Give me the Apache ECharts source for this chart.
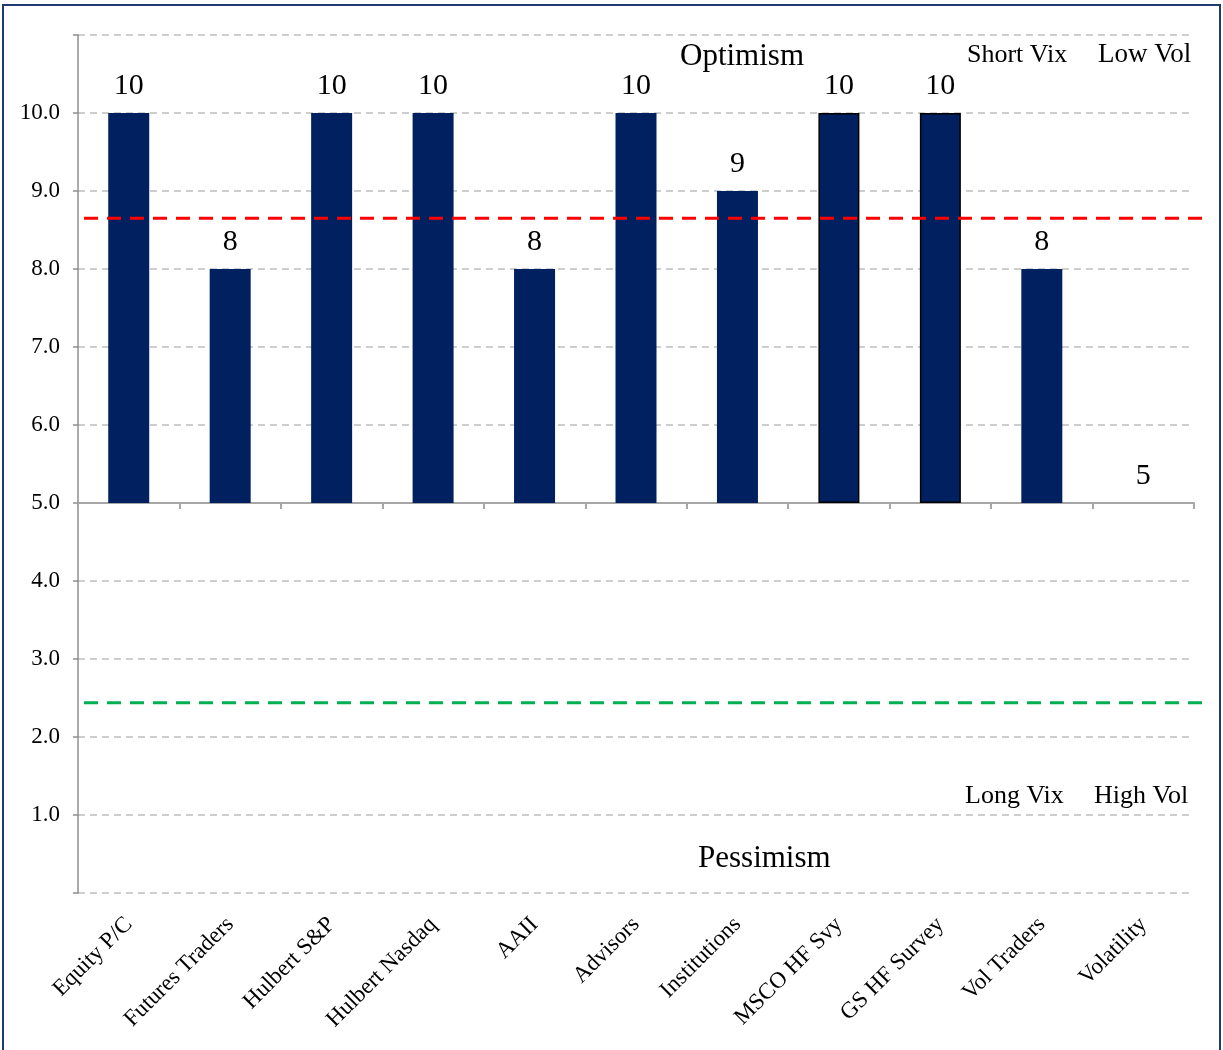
<!DOCTYPE html>
<html>
<head>
<meta charset="utf-8">
<script src="https://cdn.jsdelivr.net/npm/echarts@6/dist/echarts.min.js"></script>
<style>
  html, body { margin: 0; padding: 0; background: #fff; }
  #chart { width: 1223px; height: 1050px; }
</style>
</head>
<body>
<div id="chart"></div>
<script>
// 指标名称和读数
const categories = ['Equity P/C', 'Futures Traders', 'Hulbert S&P', 'Hulbert Nasdaq', 'AAII', 'Advisors',
    'Institutions', 'MSCO HF Svy', 'GS HF Survey', 'Vol Traders', 'Volatility'];
const scores = [10, 8, 10, 10, 8, 10, 9, 10, 10, 8, 5];
// 柱子从中线 5 开始
const baseline = 5;
// 带黑边的柱子
const outlined = ['MSCO HF Svy', 'GS HF Survey'];
// 红线/绿线 的水平
const optimismLevel = 8.65;
const pessimismLevel = 2.44;
const yTicks = [0, 1, 2, 3, 4, 5, 6, 7, 8, 9, 10, 11];

const serif = '"Liberation Serif", "Times New Roman", serif';
const navy = '#002060';
const plotHeight = 858;

var myChart = echarts.init(document.getElementById('chart'));

var option = {
    animation: false,
    backgroundColor: '#fff',
    grid: [
        { left: 78, right: 29, top: 35, bottom: 157 },
        { left: 84, right: 16, top: 35, bottom: 157 }
    ],
    xAxis: [
        {
            // 底部文字
            type: 'category',
            gridIndex: 0,
            data: categories,
            position: 'bottom',
            axisLine: { show: false },
            axisTick: { show: false },
            axisLabel: {
                rotate: 45,
                margin: 28,
                fontFamily: serif,
                fontSize: 23,
                color: '#000',
                interval: 0
            }
        },
        {
            // 5.0 位置的横轴线
            type: 'category',
            gridIndex: 0,
            data: categories,
            position: 'bottom',
            offset: -(baseline / (yTicks[yTicks.length - 1] - yTicks[0])) * plotHeight,
            axisLine: { show: true, lineStyle: { color: '#A6A6A6', width: 2 } },
            axisTick: { show: true, interval: 0, length: 6, lineStyle: { color: '#A6A6A6', width: 2 } },
            axisLabel: { show: false, interval: 0 }
        },
        { type: 'value', gridIndex: 1, min: 0, max: 1, show: false }
    ],
    yAxis: [
        {
            type: 'value',
            gridIndex: 0,
            min: yTicks[0],
            max: yTicks[yTicks.length - 1],
            interval: 1,
            axisLine: { show: true, lineStyle: { color: '#8F8F8F', width: 1.5 } },
            axisTick: { show: true, length: 5, lineStyle: { color: '#8F8F8F', width: 1.5 } },
            axisLabel: {
                margin: 18,
                fontFamily: serif,
                fontSize: 23,
                color: '#000',
                formatter: function (v) {
                    if (v === yTicks[0] || v === yTicks[yTicks.length - 1]) return '';
                    return v.toFixed(1);
                }
            },
            splitLine: {
                show: true,
                lineStyle: { color: '#BFBFBF', width: 1.5, type: [7, 5] }
            }
        },
        { type: 'value', gridIndex: 1, min: yTicks[0], max: yTicks[yTicks.length - 1], show: false }
    ],
    series: [
        {
            name: 'base',
            type: 'bar',
            stack: 'score',
            xAxisIndex: 0,
            yAxisIndex: 0,
            barWidth: 41,
            silent: true,
            itemStyle: { color: 'transparent' },
            data: categories.map(function () { return baseline; })
        },
        {
            name: 'score',
            type: 'bar',
            stack: 'score',
            xAxisIndex: 0,
            yAxisIndex: 0,
            barWidth: 41,
            itemStyle: { color: navy },
            label: {
                show: true,
                position: 'top',
                distance: 12,
                fontFamily: serif,
                fontSize: 30,
                color: '#000',
                formatter: function (p) { return String(scores[p.dataIndex]); }
            },
            data: scores.map(function (v, i) {
                var item = { value: v - baseline };
                if (outlined.indexOf(categories[i]) >= 0) {
                    item.itemStyle = { color: navy, borderColor: '#000', borderWidth: 1.5 };
                }
                return item;
            })
        },
        {
            name: 'optimism',
            type: 'line',
            xAxisIndex: 2,
            yAxisIndex: 1,
            symbol: 'none',
            silent: true,
            lineStyle: { color: '#FF0000', width: 3, type: [14, 9] },
            data: [[0, optimismLevel], [1, optimismLevel]]
        },
        {
            name: 'pessimism',
            type: 'line',
            xAxisIndex: 2,
            yAxisIndex: 1,
            symbol: 'none',
            silent: true,
            lineStyle: { color: '#00B050', width: 3, type: [14, 9] },
            data: [[0, pessimismLevel], [1, pessimismLevel]]
        }
    ],
    graphic: [
        // 外框
        {
            type: 'rect',
            shape: { x: 3, y: 5, width: 1217, height: 1060 },
            style: { fill: 'none', stroke: '#1F3A70', lineWidth: 2 },
            silent: true
        },
        { type: 'text', x: 680, y: 57, style: { text: 'Optimism', font: '31px ' + serif, fill: '#000', textVerticalAlign: 'middle' } },
        { type: 'text', x: 967, y: 55, style: { text: 'Short Vix', font: '26px ' + serif, fill: '#000', textVerticalAlign: 'middle' } },
        { type: 'text', x: 1098, y: 55, style: { text: 'Low Vol', font: '27px ' + serif, fill: '#000', textVerticalAlign: 'middle' } },
        { type: 'text', x: 965, y: 796, style: { text: 'Long Vix', font: '26px ' + serif, fill: '#000', textVerticalAlign: 'middle' } },
        { type: 'text', x: 1094, y: 796, style: { text: 'High Vol', font: '26px ' + serif, fill: '#000', textVerticalAlign: 'middle' } },
        { type: 'text', x: 698, y: 859, style: { text: 'Pessimism', font: '31px ' + serif, fill: '#000', textVerticalAlign: 'middle' } }
    ]
};

myChart.setOption(option);
</script>
</body>
</html>
